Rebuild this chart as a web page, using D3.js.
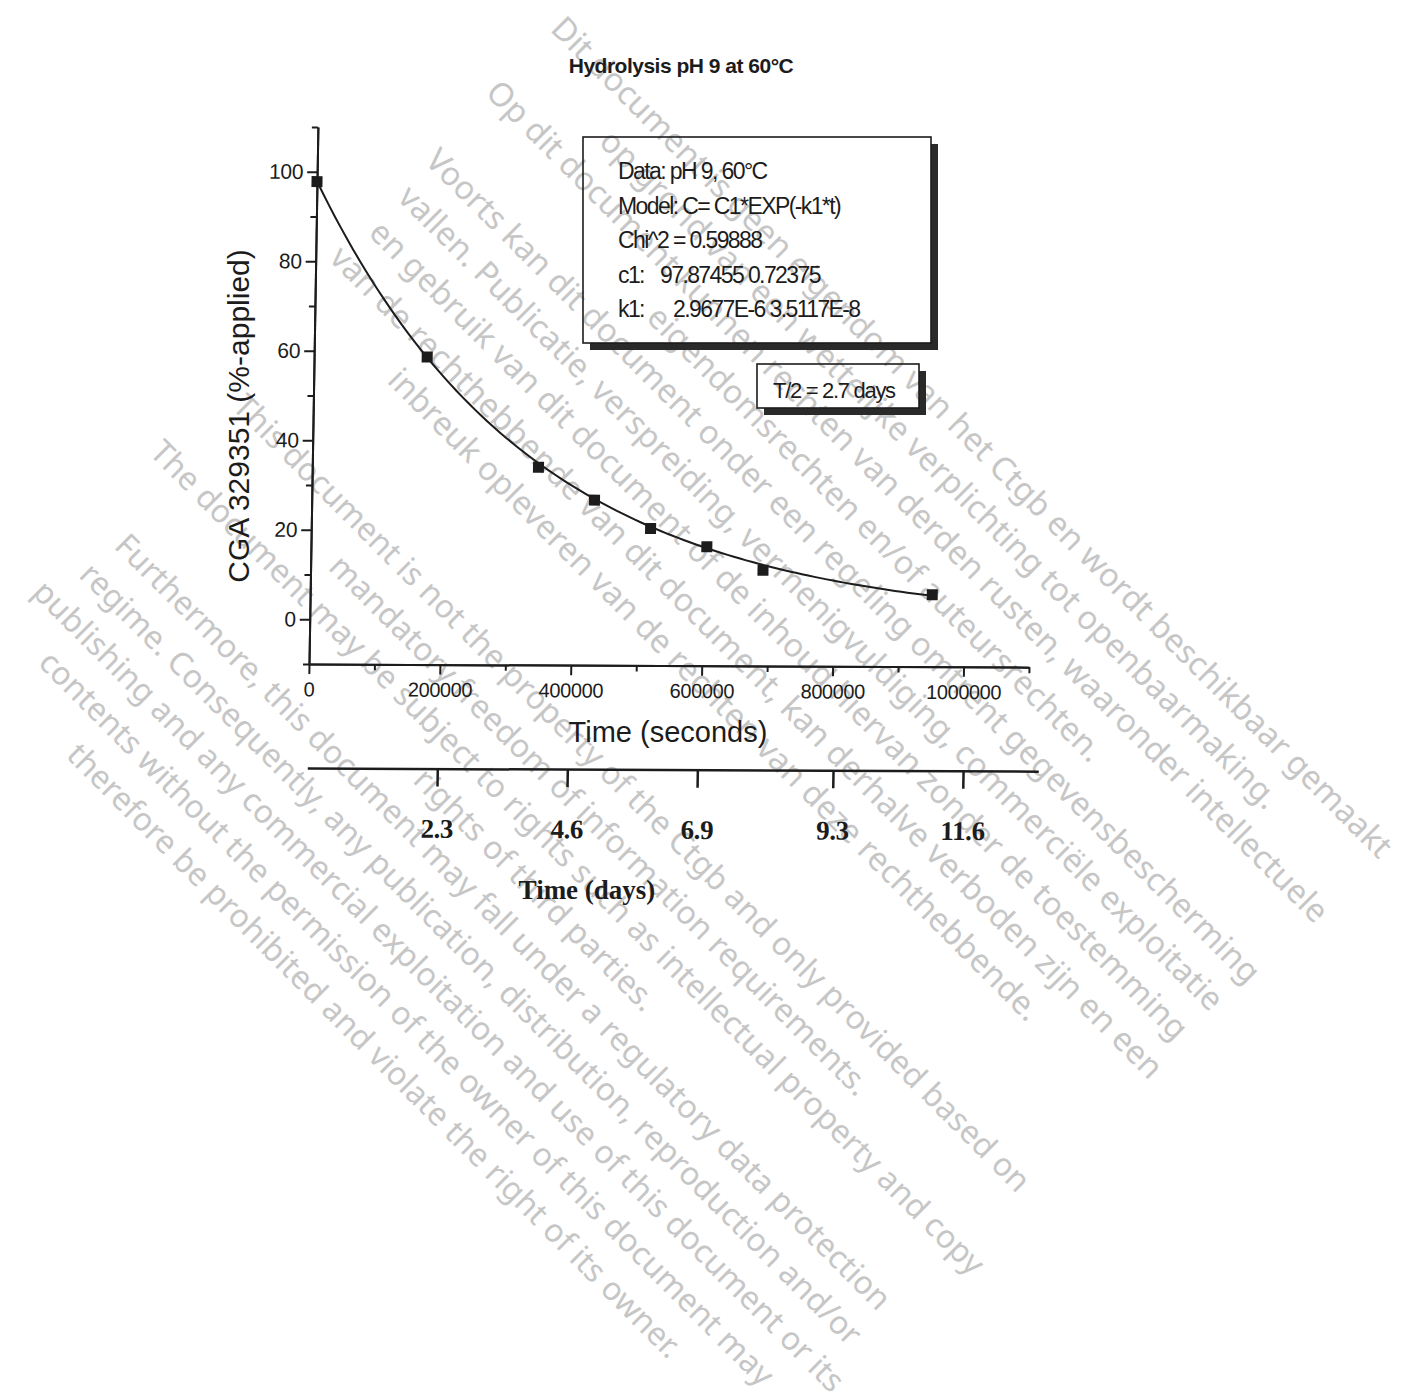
<!DOCTYPE html>
<html>
<head>
<meta charset="utf-8">
<script src="https://cdn.jsdelivr.net/npm/d3@7"></script>
<style>
  body { margin: 0; background: #fff; }
</style>
</head>
<body>
<div id="chart"></div>
<script>
"use strict";

// == data ==
var timeSec    = [0, 172800, 345600, 432000, 518400, 604800, 691200, 950400];
var pctApplied = [97.8, 58.7, 34.2, 26.9, 20.6, 16.6, 11.4, 6.1];

// fitted first order model shown in the box
var fitC1 = 97.87455;
var fitK1 = 2.9677e-6;

var yMajor = [0, 20, 40, 60, 80, 100];
var yMinor = [-10, 10, 30, 50, 70, 90, 110];
var xMajor = [0, 200000, 400000, 600000, 800000, 1000000];
var xMinor = [100000, 300000, 500000, 700000, 900000, 1100000];
var dayTicks = [2.3, 4.6, 6.9, 9.3, 11.6];

var legendLabels = ["Data: pH 9, 60°C", "Model: C= C1*EXP(-k1*t)", "Chi^2 = 0.59888", "c1:", "k1:"];
var legendValues = ["", "", "", "97.87455 0.72375", "2.9677E-6 3.5117E-8"];
var halfLifeText = "T/2 = 2.7 days";

var wmDutch = [
  "Dit document is geen eigendom van het Ctgb en wordt beschikbaar gemaakt",
  "op grond van een wettelijke verplichting tot openbaarmaking.",
  "Op dit document kunnen rechten van derden rusten, waaronder intellectuele",
  "eigendomsrechten en/of auteursrechten.",
  "Voorts kan dit document onder een regeling omtrent gegevensbescherming",
  "vallen. Publicatie, verspreiding, vermenigvuldiging, commerciële exploitatie",
  "en gebruik van dit document of de inhoud hiervan zonder de toestemming",
  "van de rechthebbende van dit document, kan derhalve verboden zijn en een",
  "inbreuk opleveren van de rechten van deze rechthebbende."
];
var wmEnglish = [
  "This document is not the property of the Ctgb and only provided based on",
  "mandatory freedom of information requirements.",
  "The document may be subject to rights such as intellectual property and copy",
  "rights of third parties.",
  "Furthermore, this document may fall under a regulatory data protection",
  "regime. Consequently, any publication, distribution, reproduction and/or",
  "publishing and any commercial exploitation and use of this document or its",
  "contents without the permission of the owner of this document may",
  "therefore be prohibited and violate the right of its owner."
];

var ink = "#1c1c1c";
var sans = "'Liberation Sans', Arial, sans-serif";
var serif = "'Liberation Serif', 'Times New Roman', serif";

var svg = d3.select("#chart").append("svg")
  .attr("width", 1407)
  .attr("height", 1399);

// == watermark (behind everything) ==
var drawWatermark = function(lines, cx, cy, size) {
  var g = svg.append("g")
    .attr("transform", "translate(" + cx + "," + cy + ") rotate(45)");
  g.selectAll("text")
    .data(lines)
    .enter()
    .append("text")
    .attr("x", 0)
    .attr("y", function(d, i) { return i * 45.5; })
    .attr("dy", "0.35em")
    .attr("text-anchor", "middle")
    .style("font-family", "'Noto Sans', 'Open Sans', sans-serif")
    .style("font-size", size)
    .attr("fill", "#c6c6c6")
    .text(function(d) { return d; });
};
drawWatermark(wmDutch, 972, 437, "32.5px");
drawWatermark(wmEnglish, 632, 793, "32px");

// == scales ==
var x = d3.scaleLinear().domain([0, 1100000]).range([309, 1029]);
var y = d3.scaleLinear().domain([-10, 110]).range([664, 127]);
var xDays = d3.scaleLinear().domain([0, 12.93]).range([309, 1040]);

// the scan is slightly rotated / sheared
var plot = svg.append("g")
  .attr("transform", "translate(309,664) rotate(0.25) skewX(-0.7) translate(-309,-664)");

var styleAxis = function(g, font, size, weight, spacing) {
  g.attr("font-family", null).attr("font-size", null);
  g.select(".domain").attr("stroke", ink).attr("stroke-width", 2);
  g.selectAll(".tick line").attr("stroke", ink).attr("stroke-width", 2);
  g.selectAll(".tick text")
    .attr("fill", ink)
    .style("font-family", font)
    .style("font-size", size)
    .style("font-weight", weight)
    .style("letter-spacing", spacing);
};

// y axis
plot.append("g").attr("transform", "translate(309,0)")
  .call(d3.axisLeft(y).tickValues(yMinor).tickSize(6).tickSizeOuter(0).tickFormat(""))
  .call(styleAxis, sans, "21px", "normal", "-0.3px");
plot.append("g").attr("transform", "translate(309,0)")
  .call(d3.axisLeft(y).tickValues(yMajor).tickSize(10).tickSizeOuter(0).tickPadding(4).tickFormat(d3.format("d")))
  .call(styleAxis, sans, "21px", "normal", "-0.3px");

// x axis (seconds)
plot.append("g").attr("transform", "translate(0,664)")
  .call(d3.axisBottom(x).tickValues(xMinor).tickSize(6).tickSizeOuter(0).tickFormat(""))
  .call(styleAxis, sans, "20px", "normal", "-0.4px");
plot.append("g").attr("transform", "translate(0,664)")
  .call(d3.axisBottom(x).tickValues(xMajor).tickSize(10).tickSizeOuter(0).tickPadding(8).tickFormat(d3.format("d")))
  .call(styleAxis, sans, "20px", "normal", "-0.4px");

// second axis in days
var daysAxis = plot.append("g").attr("transform", "translate(0,768)")
  .call(d3.axisBottom(xDays).tickValues(dayTicks).tickSize(18).tickSizeOuter(0).tickPadding(32).tickFormat(d3.format(".1f")))
  .call(styleAxis, serif, "27px", "bold", "-0.4px");
daysAxis.select(".domain").attr("stroke-width", 2.5);
daysAxis.selectAll(".tick line").attr("stroke-width", 2.5);

// fitted curve
var tMax = d3.max(timeSec);
var fitPts = d3.range(0, 101).map(function(i) {
  var t = tMax * i / 100;
  return [t, fitC1 * Math.exp(-fitK1 * t)];
});
plot.append("path")
  .datum(fitPts)
  .attr("fill", "none")
  .attr("stroke", ink)
  .attr("stroke-width", 2)
  .attr("d", d3.line().x(function(d) { return x(d[0]); }).y(function(d) { return y(d[1]); }));

// measured points
var pts = timeSec.map(function(t, i) { return { t: t, v: pctApplied[i] }; });
plot.selectAll("rect.pt")
  .data(pts)
  .enter()
  .append("rect")
  .attr("class", "pt")
  .attr("x", function(d) { return x(d.t) - 5.5; })
  .attr("y", function(d) { return y(d.v) - 5.5; })
  .attr("width", 11)
  .attr("height", 11)
  .attr("fill", ink);

// == titles ==
svg.append("text")
  .attr("x", 681).attr("y", 73)
  .attr("text-anchor", "middle")
  .style("font-family", sans).style("font-size", "21px").style("font-weight", "bold")
  .style("letter-spacing", "-0.5px")
  .attr("fill", ink)
  .text("Hydrolysis pH 9 at 60°C");

svg.append("text")
  .attr("transform", "translate(249,416) rotate(-90)")
  .attr("text-anchor", "middle")
  .style("font-family", sans).style("font-size", "30px")
  .attr("fill", ink)
  .text("CGA 329351 (%-applied)");

svg.append("text")
  .attr("x", 668).attr("y", 742)
  .attr("text-anchor", "middle")
  .style("font-family", sans).style("font-size", "29px")
  .attr("fill", ink)
  .text("Time (seconds)");

svg.append("text")
  .attr("x", 587).attr("y", 899)
  .attr("text-anchor", "middle")
  .style("font-family", serif).style("font-size", "27px").style("font-weight", "bold")
  .attr("fill", ink)
  .text("Time (days)");

// == fit parameter box ==
var shadowBox = function(bx, by, bw, bh, off) {
  svg.append("path")
    .attr("d", "M" + (bx + bw) + "," + (by + off) + " H" + (bx + bw + off) + " V" + (by + bh + off) +
               " H" + (bx + off) + " V" + (by + bh) + " H" + (bx + bw) + " Z")
    .attr("fill", "#2a2a2a");
  svg.append("rect")
    .attr("x", bx).attr("y", by).attr("width", bw).attr("height", bh)
    .attr("fill", "none").attr("stroke", ink).attr("stroke-width", 1.6);
};

shadowBox(583, 137, 348, 206, 7);
var valueX = [0, 0, 0, 660, 673];
legendLabels.forEach(function(lbl, i) {
  svg.append("text")
    .attr("x", 618).attr("y", 179 + i * 34.5)
    .style("font-family", sans).style("font-size", "23px")
    .style("letter-spacing", "-1.6px")
    .attr("fill", ink)
    .text(lbl);
  if (legendValues[i]) {
    svg.append("text")
      .attr("x", valueX[i]).attr("y", 179 + i * 34.5)
      .style("font-family", sans).style("font-size", "23px")
      .style("letter-spacing", "-1.6px")
      .attr("fill", ink)
      .text(legendValues[i]);
  }
});

shadowBox(757, 364, 162, 44, 7);
svg.append("text")
  .attr("x", 773).attr("y", 398)
  .style("font-family", sans).style("font-size", "22px")
  .style("letter-spacing", "-1.3px")
  .attr("fill", ink)
  .text(halfLifeText);
</script>
</body>
</html>
